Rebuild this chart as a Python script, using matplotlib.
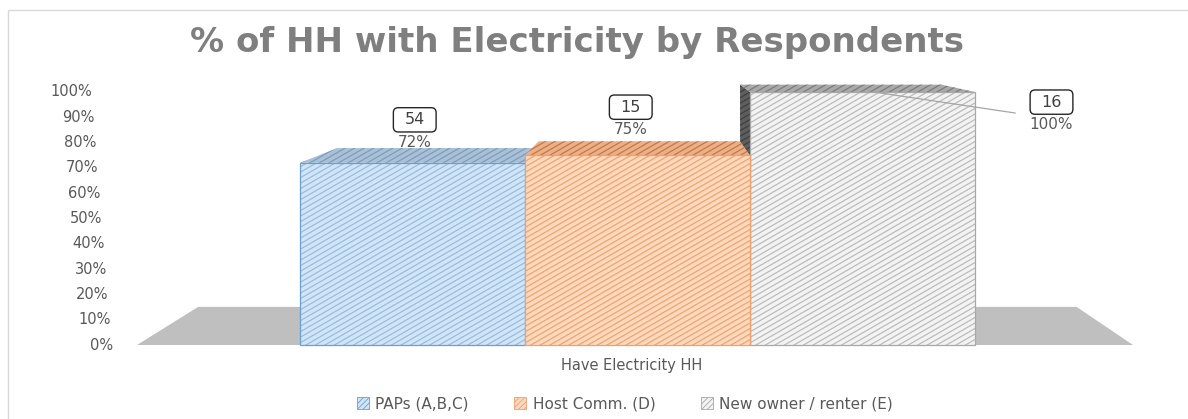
import numpy as np
import matplotlib
matplotlib.use("Agg")
import matplotlib.pyplot as plt
from matplotlib.patches import Polygon, Rectangle, Patch, FancyBboxPatch
from matplotlib.collections import LineCollection

# ---- data ----
series = ["PAPs (A,B,C)", "Host Comm. (D)", "New owner / renter (E)"]
pct_values = [72, 75, 100]          # % of households with electricity
hh_counts = [54, 15, 16]            # number of households
category = "Have Electricity HH"
y_ticks = [0, 10, 20, 30, 40, 50, 60, 70, 80, 90, 100]
title = "% of HH with Electricity by Respondents"

# ---- styling ----
front_fill = ["#d3e5f5", "#fcd9bf", "#f3f3f3"]
front_lines = ["#93bee6", "#f3a46c", "#bcbcbc"]
front_edge = ["#6a9fd3", "#eea070", "#a8a8a8"]
top_fill = ["#a9c1d8", "#eab08a", "#a9a9a9"]
top_lines = ["#7f9cb8", "#c8783f", "#7c7c7c"]
side_fill = "#5e5e5e"
side_lines = "#404040"
floor_color = "#bfbfbf"
text_grey = "#595959"

# 3D look: vanishing point and depth factors (data coordinates)
VP = (1.078, 127.7)
K_BAR = 0.895
K_FLOOR = 0.882


def back(x, y, k):
    return (VP[0] + k * (x - VP[0]), VP[1] + k * (y - VP[1]))


fig = plt.figure(figsize=(11.88, 4.19), dpi=100)
fig.patch.set_facecolor("white")
ax = fig.add_axes([137 / 1188, 74 / 419, 996 / 1188, 253 / 419])
ax.set_xlim(-1.2244, 3.2022)
ax.set_ylim(0, 100)
ax.axis("off")


def hatched_face(poly, fill, line_color, z, edge=None, lw=0.9,
                 spacing=5.5, angle=30):
    patch = Polygon(poly, closed=True, facecolor=fill,
                    edgecolor="none", zorder=z, clip_on=False)
    ax.add_patch(patch)
    disp = ax.transData.transform(np.asarray(poly))
    (x0, y0), (x1, y1) = disp.min(0), disp.max(0)
    s = np.tan(np.radians(angle))
    cs = np.arange(y0 - s * x1, y1 - s * x0 + spacing, spacing)
    inv = ax.transData.inverted()
    segs = [inv.transform([(x0 - 2, s * (x0 - 2) + c), (x1 + 2, s * (x1 + 2) + c)])
            for c in cs]
    lc = LineCollection(segs, colors=line_color, linewidths=lw, zorder=z)
    lc.set_clip_path(patch)
    ax.add_collection(lc)
    if edge is not None:
        ax.add_patch(Polygon(poly, closed=True, facecolor="none",
                             edgecolor=edge, lw=0.9, zorder=z + 0.01,
                             clip_on=False))


# floor
xl, xr = ax.get_xlim()
floor = [(xl, 0), (xr, 0), back(xr, 0, K_FLOOR), back(xl, 0, K_FLOOR)]
ax.add_patch(Polygon(floor, closed=True, facecolor=floor_color,
                     edgecolor="none", zorder=1))

# bars: farthest from the vanishing point first
xpos = np.arange(len(series))
width = 1.0
order = sorted(range(len(series)), key=lambda i: -abs(xpos[i] - VP[0]))
z = 2
for i in order:
    v = pct_values[i]
    a, b = xpos[i] - width / 2, xpos[i] + width / 2
    # visible side face
    if a > VP[0]:
        side = [(a, 0), (a, v), back(a, v, K_BAR), back(a, 0, K_BAR)]
        hatched_face(side, side_fill, side_lines, z)
    elif b < VP[0]:
        side = [(b, 0), (b, v), back(b, v, K_BAR), back(b, 0, K_BAR)]
        hatched_face(side, side_fill, side_lines, z)
    # top face
    top = [(a, v), (b, v), back(b, v, K_BAR), back(a, v, K_BAR)]
    hatched_face(top, top_fill[i], top_lines[i], z + 0.1)
    # front face
    bar = ax.bar(xpos[i], v, width=width, color=front_fill[i],
                 edgecolor="none", zorder=z + 0.2)[0]
    corners = bar.get_corners()
    hatched_face(corners, front_fill[i], front_lines[i], z + 0.3,
                 edge=front_edge[i])
    z += 1

# data labels: count in a rounded box, percentage below
label_pos = [(0.01, 8.0), (-0.03, 10.0), (0.84, -13.0)]
box_w, box_h = 0.19, 9.6
y_per_x = (225 / 2.53)
for i, (dx, dy) in enumerate(label_pos):
    lx, ly = xpos[i] + dx, pct_values[i] + dy
    ax.text(lx, ly, f"{pct_values[i]}%", ha="center", va="center",
            fontsize=11, color=text_grey, zorder=20)
    ax.add_patch(FancyBboxPatch((lx - box_w / 2, ly + 4.2), box_w, box_h,
                                boxstyle="round,pad=0,rounding_size=0.022",
                                mutation_aspect=y_per_x,
                                fc="white", ec="#262626", lw=1.0,
                                zorder=19, clip_on=False))
    ax.text(lx, ly + 4.2 + box_h / 2, f"{hh_counts[i]}", ha="center",
            va="center", fontsize=11.5, color="#404040", zorder=20)
# leader line for the label placed beside the bar
ax.plot([xpos[2] + 0.678, xpos[2] + 0.05], [pct_values[2] - 8.3, pct_values[2]],
        color="#a6a6a6", lw=0.9, zorder=20, clip_on=False)

# slanted value axis labels
for t in y_ticks:
    px_right = 113 - 0.21 * t
    ax.text((px_right - 412.5) / 225, t, f"{t}%", ha="right", va="center",
            fontsize=10.5, color=text_grey, clip_on=False)

# category label
ax.text(xpos[1] - 0.025, -8, category, ha="center", va="center",
        fontsize=10.5, color=text_grey)

# title
fig.text(577.5 / 1188, 1 - 52 / 419, title, ha="center", va="baseline",
         fontsize=24.5, fontweight="bold", color="#7f7f7f")

# legend
plt.rcParams["hatch.linewidth"] = 0.6
handles = [Patch(facecolor=front_fill[i], edgecolor=front_edge[i],
                 hatch="//////", lw=0.6) for i in range(len(series))]
fig.legend(handles, series, loc="center", bbox_to_anchor=(0.526, 0.036),
           ncol=3, frameon=False, handlelength=0.8, handleheight=0.8,
           columnspacing=3.0, handletextpad=0.4,
           prop={"size": 11}, labelcolor=text_grey)

# chart frame
fig.add_artist(Rectangle((8 / 1188, -0.2), 1.2, (419 - 10) / 419 + 0.2,
                         transform=fig.transFigure, fill=False,
                         ec="#d9d9d9", lw=1.0))

fig.savefig("out.png", dpi=100)
